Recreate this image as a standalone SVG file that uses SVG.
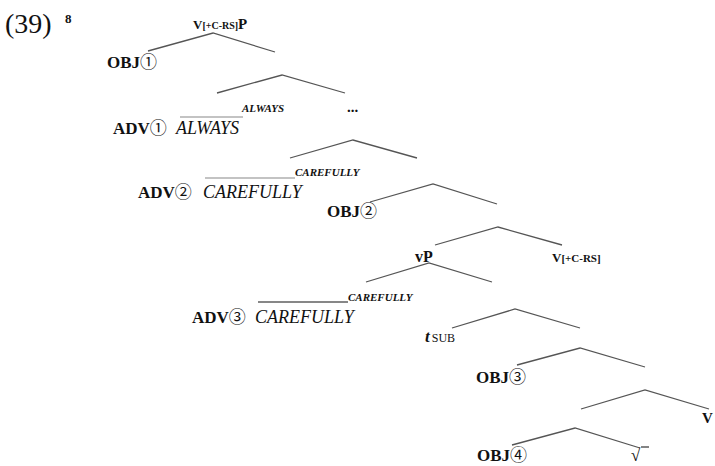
<svg xmlns="http://www.w3.org/2000/svg" width="715" height="466" viewBox="0 0 715 466">
<style>
text{font-family:"Liberation Serif","Times New Roman","Noto Sans CJK JP",serif;fill:#111}
.lbl{font-size:17px;font-weight:bold}
.c{font-weight:normal;font-family:"Noto Sans CJK JP","DejaVu Sans",sans-serif;font-size:17px}
.it{font-size:18px;font-style:italic}
.sm{font-size:11px;font-style:italic;font-weight:bold}
.br{fill:none;stroke:#555;stroke-width:1.3}
.ov{stroke:#888;stroke-width:1.2}
</style>
<rect width="715" height="466" fill="#fff"/>
<text x="5" y="33" style="font-size:28px">(39)</text>
<text x="65" y="23" style="font-size:13px;font-weight:bold">8</text>
<g id="connectors">
<polyline class="br" points="148,51 213,33 275,52"/>
<polyline class="br" points="217,93 282,75 345,93"/>
<polyline class="br" points="290,158 353,140 417,158"/>
<polyline class="br" points="370,202 433,184 497,204"/>
<polyline class="br" points="435,245 498,227 562,245"/>
<polyline class="br" points="366,282 429,263 492,282"/>
<polyline class="br" points="452,328 515,309 580,328"/>
<polyline class="br" points="517,365 580,348 645,367"/>
<polyline class="br" points="581,409 645,390 709,409"/>
<polyline class="br" points="512,445 575,428 640,448"/>
<line class="ov" x1="180" y1="117" x2="243" y2="117"/>
<line class="ov" x1="205" y1="178" x2="295" y2="178"/>
<line x1="258" y1="302" x2="348" y2="302" stroke="#111" stroke-width="1.2"/>
</g>
<g id="root"><text x="193" y="29" style="font-weight:bold"><tspan style="font-size:13px">V</tspan><tspan style="font-size:10px">[+C-RS]</tspan><tspan style="font-size:15px">P</tspan></text></g>
<g id="obj1"><text x="107" y="68" class="lbl">OBJ<tspan class="c">①</tspan></text></g>
<g id="always-small"><text x="242" y="112" class="sm">ALWAYS</text></g>
<g id="dots"><text x="347" y="112" style="font-size:15px;font-weight:bold">...</text></g>
<g id="adv1"><text x="113" y="134" class="lbl">ADV<tspan class="c">①</tspan></text><text x="176" y="134" class="it">ALWAYS</text></g>
<g id="carefully-small-1"><text x="295" y="176" class="sm">CAREFULLY</text></g>
<g id="adv2"><text x="138" y="198" class="lbl">ADV<tspan class="c">②</tspan></text><text x="203" y="198" class="it">CAREFULLY</text></g>
<g id="obj2"><text x="327" y="217" class="lbl">OBJ<tspan class="c">②</tspan></text></g>
<g id="vP"><text x="415" y="262" style="font-size:16px;font-weight:bold">vP</text></g>
<g id="v-rs"><text x="552" y="262" style="font-weight:bold"><tspan style="font-size:13px">V</tspan><tspan style="font-size:11px">[+C-RS]</tspan></text></g>
<g id="carefully-small-2"><text x="348" y="301" class="sm">CAREFULLY</text></g>
<g id="adv3"><text x="192" y="323" class="lbl">ADV<tspan class="c">③</tspan></text><text x="255" y="323" class="it">CAREFULLY</text></g>
<g id="tsub"><text x="425" y="342"><tspan style="font-size:17px;font-style:italic;font-weight:bold">t</tspan><tspan dx="2" style="font-size:12px">SUB</tspan></text></g>
<g id="obj3"><text x="476" y="383" class="lbl">OBJ<tspan class="c">③</tspan></text></g>
<g id="v-low"><text x="702" y="423" style="font-size:15px;font-weight:bold">V</text></g>
<g id="obj4"><text x="477" y="461" class="lbl">OBJ<tspan class="c">④</tspan></text></g>
<g id="root-sign"><text x="631" y="461" style="font-size:17px;font-weight:bold">√</text><line x1="641" y1="447" x2="649" y2="447" stroke="#333" stroke-width="1.2"/></g>
</svg>
